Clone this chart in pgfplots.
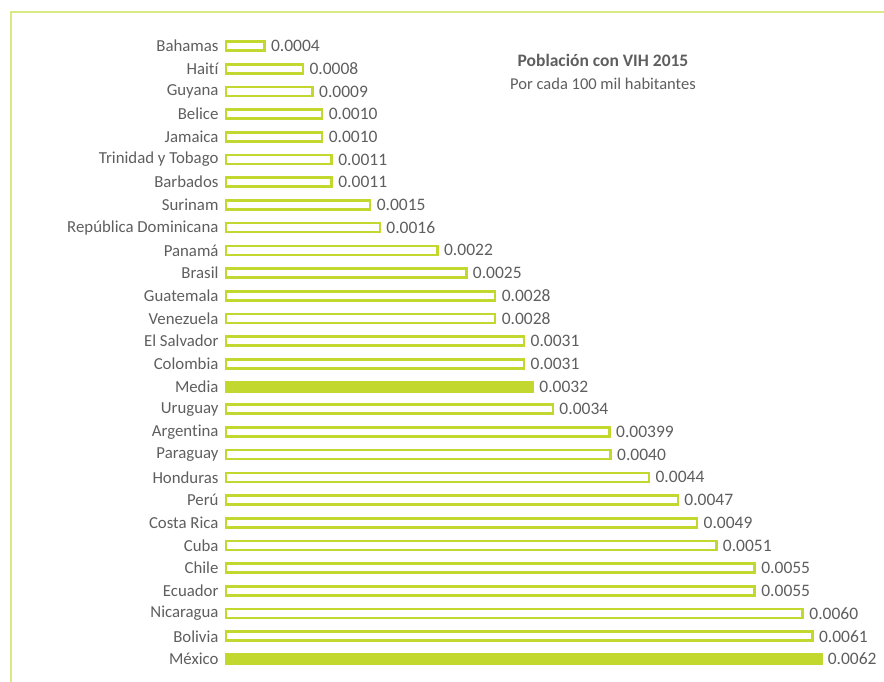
\documentclass[border=0pt]{standalone}
\usepackage{fontspec}
\setmainfont[Ligatures=NoCommon]{Carlito}
\usepackage{pgfplots}
\pgfplotsset{compat=1.18}
\definecolor{barc}{HTML}{C3D82E}
\definecolor{framec}{HTML}{D8EA86}
\definecolor{txt}{HTML}{5E5E5E}
\begin{document}
\begin{tikzpicture}[x=1pt,y=1pt]
\useasboundingbox (0,0) rectangle (884,682);
% frame (left and top edges)
\draw[framec, line width=2pt] (11,0) -- (11,670) -- (884,670);
\begin{axis}[
  at={(226pt,23pt)}, anchor=south west,
  scale only axis, width=596pt, height=613pt,
  xmin=0, xmax=0.0062, ymin=0, ymax=27,
  y dir=reverse, clip=false,
  axis line style={draw=none},
  xtick=\empty,
  ytick={0,...,27},
  major tick length=0pt,
  yticklabels={Bahamas,Haití,Guyana,Belice,Jamaica,Trinidad y Tobago,Barbados,Surinam,República Dominicana,Panamá,Brasil,Guatemala,Venezuela,El Salvador,Colombia,Media,Uruguay,Argentina,Paraguay,Honduras,Perú,Costa Rica,Cuba,Chile,Ecuador,Nicaragua,Bolivia,México},
  yticklabel style={font=\fontsize{16.8}{18}\selectfont, text=txt, anchor=east, xshift=-4pt},
  xbar, bar width=9pt, bar shift=0pt,
  point meta=explicit symbolic,
  nodes near coords,
  nodes near coords style={font=\fontsize{17.5}{18}\selectfont, text=txt, anchor=west, xshift=2pt},
]
\addplot[draw=barc, line width=2.6pt, fill=white] coordinates {
  (0.0004,0) [0.0004]
  (0.0008,1) [0.0008]
  (0.0009,2) [0.0009]
  (0.0010,3) [0.0010]
  (0.0010,4) [0.0010]
  (0.0011,5) [0.0011]
  (0.0011,6) [0.0011]
  (0.0015,7) [0.0015]
  (0.0016,8) [0.0016]
  (0.0022,9) [0.0022]
  (0.0025,10) [0.0025]
  (0.0028,11) [0.0028]
  (0.0028,12) [0.0028]
  (0.0031,13) [0.0031]
  (0.0031,14) [0.0031]
  (0.0034,16) [0.0034]
  (0.00399,17) [0.00399]
  (0.0040,18) [0.0040]
  (0.0044,19) [0.0044]
  (0.0047,20) [0.0047]
  (0.0049,21) [0.0049]
  (0.0051,22) [0.0051]
  (0.0055,23) [0.0055]
  (0.0055,24) [0.0055]
  (0.0060,25) [0.0060]
  (0.0061,26) [0.0061]
};
\addplot[draw=barc, line width=1pt, fill=barc, bar width=11pt] coordinates {
  (0.0032,15) [0.0032]
  (0.0062,27) [0.0062]
};
\end{axis}
\node[text=txt, font=\fontsize{17.5}{19}\selectfont\bfseries] at (603,622) {Población con VIH 2015};
\node[text=txt, font=\fontsize{16.5}{19}\selectfont] at (603,598) {Por cada 100 mil habitantes};
\end{tikzpicture}
\end{document}
